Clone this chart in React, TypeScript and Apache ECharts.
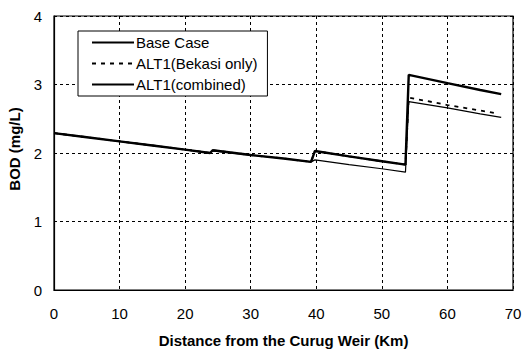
import React, { useEffect, useRef } from "react";
import * as echarts from "echarts";

const xTicks = [0, 10, 20, 30, 40, 50, 60, 70];
const yTicks = [0, 1, 2, 3, 4];

const seriesNames = ["Base Case", "ALT1(Bekasi only)", "ALT1(combined)"];

const baseCase: [number, number][] = [
  [0, 2.29], [5, 2.23], [10, 2.17], [15, 2.11], [20, 2.05], [23.8, 2.0], [24.2, 2.04],
  [30, 1.97], [35, 1.92], [39.2, 1.87], [39.8, 2.03], [45, 1.95], [50, 1.88], [53.6, 1.83],
  [54.1, 3.14], [60, 3.02], [65, 2.92], [68.2, 2.86],
];

const alt1Bekasi: [number, number][] = [
  [0, 2.29], [5, 2.23], [10, 2.17], [15, 2.11], [20, 2.05], [23.8, 2.0], [24.2, 2.04],
  [30, 1.97], [35, 1.92], [39.2, 1.87], [39.8, 2.03], [45, 1.95], [50, 1.88], [53.6, 1.83],
  [54.1, 2.81], [60, 2.70], [65, 2.62], [67.5, 2.58],
];

const alt1Combined: [number, number][] = [
  [0, 2.29], [5, 2.23], [10, 2.17], [15, 2.11], [20, 2.05], [23.8, 2.0], [24.2, 2.03],
  [30, 1.97], [35, 1.92], [39.2, 1.87], [39.8, 1.9], [45, 1.83], [50, 1.77], [53.6, 1.72],
  [54.1, 2.75], [60, 2.66], [65, 2.57], [68.2, 2.52],
];

const FONT = "'Liberation Sans', Arial, sans-serif";

export default function App() {
  const ref = useRef<HTMLDivElement>(null);
  useEffect(() => {
    if (!ref.current) return;
    const chart = echarts.init(ref.current, undefined, { renderer: "svg" });
    chart.setOption({
      animation: false,
      backgroundColor: "#ffffff",
      textStyle: { fontFamily: FONT, color: "#000" },
      grid: {
        left: 54,
        right: 13,
        top: 16,
        bottom: 59,
        outerBoundsMode: "none",
        show: true,
        borderColor: "#000",
        borderWidth: 1.2,
      },
      legend: {
        orient: "vertical",
        left: 78,
        top: 31,
        padding: [4, 10, 4, 13],
        itemWidth: 42,
        itemHeight: 14,
        itemGap: 6,
        backgroundColor: "#fff",
        borderColor: "#000",
        borderWidth: 1,
        borderRadius: 0,
        itemStyle: { opacity: 0 },
        textStyle: { fontFamily: FONT, fontSize: 15, color: "#000", padding: [0, 0, 0, -3] },
        data: seriesNames,
      },
      xAxis: {
        type: "value",
        min: xTicks[0],
        max: xTicks[xTicks.length - 1],
        interval: 10,
        name: "Distance from the Curug Weir (Km)",
        nameLocation: "middle",
        nameGap: 43,
        nameTextStyle: { fontFamily: FONT, fontSize: 15, fontWeight: "bold", color: "#000" },
        axisLine: { show: true, lineStyle: { color: "#000", width: 1.2 } },
        axisTick: { show: false },
        axisLabel: { fontFamily: FONT, fontSize: 15, color: "#000", margin: 16 },
        splitLine: { show: true, lineStyle: { color: "#000", type: [3, 3], width: 1 } },
      },
      yAxis: {
        type: "value",
        min: yTicks[0],
        max: yTicks[yTicks.length - 1],
        interval: 1,
        name: "BOD (mg/L)",
        nameLocation: "middle",
        nameGap: 32,
        nameTextStyle: { fontFamily: FONT, fontSize: 15, fontWeight: "bold", color: "#000", padding: [0, 0, 0, 8] },
        axisLine: { show: true, lineStyle: { color: "#000", width: 1.2 } },
        axisTick: { show: false },
        axisLabel: { fontFamily: FONT, fontSize: 15, color: "#000", margin: 12 },
        splitLine: { show: true, lineStyle: { color: "#000", type: [3, 3], width: 1 } },
      },
      series: [
        {
          name: seriesNames[2],
          type: "line",
          data: alt1Combined,
          symbol: "none",
          z: 3,
          lineStyle: { color: "#000", width: 1.2 },
          itemStyle: { color: "#000" },
        },
        {
          name: seriesNames[1],
          type: "line",
          data: alt1Bekasi,
          symbol: "none",
          z: 4,
          lineStyle: { color: "#000", width: 1.8, type: [4, 5] },
          itemStyle: { color: "#000" },
        },
        {
          name: seriesNames[0],
          type: "line",
          data: baseCase,
          symbol: "none",
          z: 5,
          lineStyle: { color: "#000", width: 2.4 },
          itemStyle: { color: "#000" },
        },
      ],
    });
    return () => chart.dispose();
  }, []);
  return (
    <div
      ref={ref}
      style={{ position: "fixed", left: 0, top: 0, width: 526, height: 349 }}
    />
  );
}
